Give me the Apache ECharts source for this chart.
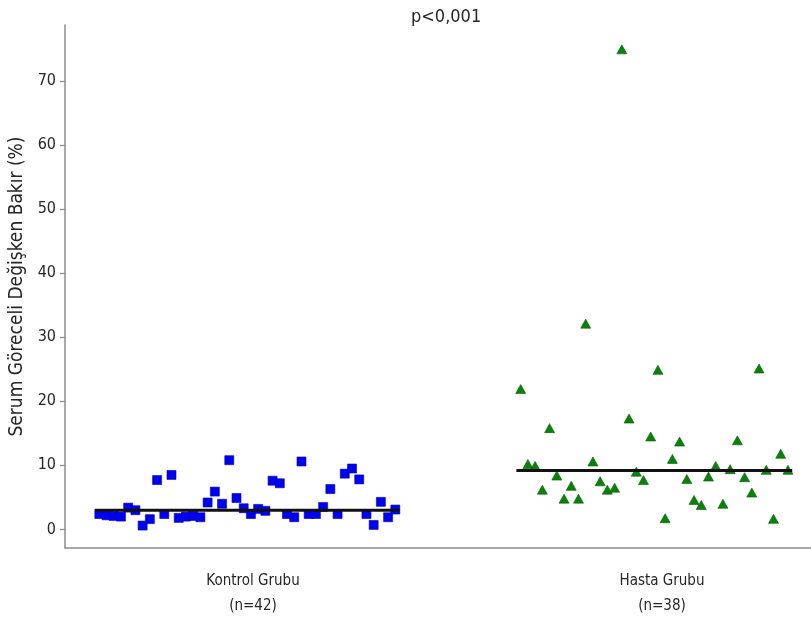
<!DOCTYPE html>
<html>
<head>
<meta charset="utf-8">
<script src="https://cdn.jsdelivr.net/npm/echarts@6/dist/echarts.min.js"></script>
<style>html,body{margin:0;padding:0;background:#fff;}#chart{width:811px;height:626px;}</style>
</head>
<body>
<div id="chart"></div>
<script>
// Categories / labels
const groupNames = ['Kontrol Grubu', 'Hasta Grubu'];
const groupN = ['(n=42)', '(n=38)'];
const yTicks = [0, 10, 20, 30, 40, 50, 60, 70];
const titleText = 'p<0,001';
const yAxisName = 'Serum Göreceli Değişken Bakır (%)';

// Values (in plotting order)
const kontrolValues = [2.4, 2.2, 2.1, 2.0, 3.4, 3.0, 0.6, 1.6, 7.7, 2.4,
  8.5, 1.8, 2.0, 2.1, 1.9, 4.2, 5.9, 4.0, 10.8, 4.9,
  3.3, 2.4, 3.2, 2.9, 7.6, 7.2, 2.4, 1.9, 10.6, 2.4,
  2.4, 3.5, 6.3, 2.4, 8.7, 9.5, 7.8, 2.4, 0.7, 4.3,
  1.9, 3.1];
const hastaValues = [21.9, 10.2, 9.9, 6.2, 15.8, 8.4, 4.8, 6.8, 4.8, 32.1,
  10.6, 7.5, 6.2, 6.5, 74.9, 17.3, 9.0, 7.7, 14.5, 24.9,
  1.75, 11.0, 13.7, 7.85, 4.6, 3.8, 8.25, 9.9, 4.0, 9.4,
  13.9, 8.15, 5.75, 25.1, 9.3, 1.65, 11.8, 9.3];
// Group summary lines (median)
const kontrolMedian = 3.0;
const hastaMedian = 9.2;

// Strip layout (evenly spaced jitter around group position 1 and 2)
const layout = {
  kontrol: { pos: 1, start: -0.3758, step: 0.017653 },
  hasta:   { pos: 2, start: -0.3455, step: 0.01766 }
};
function strip(vals, L) {
  return vals.map((v, i) => [L.pos + L.start + i * L.step, v]);
}
function medLine(vals, L, m) {
  const x0 = L.pos + L.start - 0.0105;
  const x1 = L.pos + L.start + (vals.length - 1) * L.step + 0.0105;
  return [[x0, m], [x1, m]];
}

const font = '"DejaVu Sans Condensed", "DejaVu Sans", sans-serif';
const txt = '#262626';
const axisCol = '#8c8c8c';

const chart = echarts.init(document.getElementById('chart'));
chart.setOption({
  animation: false,
  backgroundColor: '#fff',
  title: {
    text: titleText, left: 406, top: 3,
    textStyle: { fontFamily: font, fontSize: 18, fontWeight: 'normal', color: txt }
  },
  grid: { left: 65, right: 0, top: 25, bottom: 78, containLabel: false, outerBoundsMode: 'none' },
  xAxis: {
    type: 'value', min: 0.5403, max: 2.3643,
    axisLine: { show: true, onZero: false, lineStyle: { color: axisCol, width: 1.5 } },
    axisTick: { show: false },
    splitLine: { show: false },
    axisLabel: {
      customValues: [1, 2],
      margin: 21,
      fontFamily: font, fontSize: 15, color: txt, lineHeight: 25,
      formatter: v => { const i = Math.round(v) - 1; return groupNames[i] + '\n' + groupN[i]; }
    }
  },
  yAxis: {
    type: 'value', min: -2.9, max: 78.7,
    name: yAxisName, nameLocation: 'middle', nameGap: 36,
    nameTextStyle: { fontFamily: font, fontSize: 19, color: txt },
    axisLine: { show: true, onZero: false, lineStyle: { color: axisCol, width: 1.5 } },
    axisTick: { show: true, customValues: yTicks, length: 5, lineStyle: { color: axisCol, width: 1.2 } },
    splitLine: { show: false },
    axisLabel: { customValues: yTicks, margin: 9, fontFamily: font, fontSize: 16, color: txt }
  },
  series: [
    {
      type: 'scatter', name: groupNames[0], data: strip(kontrolValues, layout.kontrol),
      symbol: 'rect', symbolSize: 9,
      itemStyle: { color: '#0000f0', borderColor: '#0000b0', borderWidth: 0.6, opacity: 1 }, z: 2
    },
    {
      type: 'scatter', name: groupNames[1], data: strip(hastaValues, layout.hasta),
      symbol: 'triangle', symbolSize: [10, 9],
      itemStyle: { color: '#0a820a', borderColor: '#005a00', borderWidth: 0.6, opacity: 1 }, z: 2
    },
    {
      type: 'line', data: medLine(kontrolValues, layout.kontrol, kontrolMedian),
      symbol: 'none', lineStyle: { color: '#111', width: 3 }, z: 3, silent: true
    },
    {
      type: 'line', data: medLine(hastaValues, layout.hasta, hastaMedian),
      symbol: 'none', lineStyle: { color: '#111', width: 3 }, z: 3, silent: true
    }
  ]
});
</script>
</body>
</html>
